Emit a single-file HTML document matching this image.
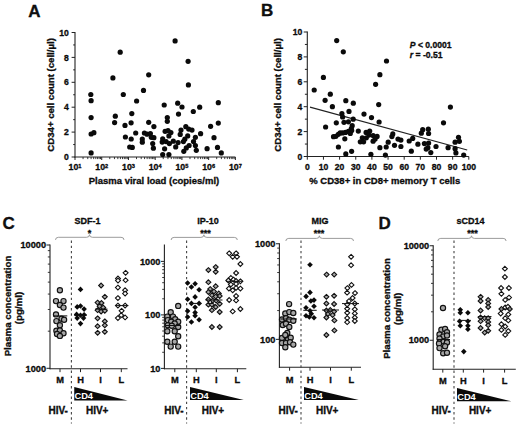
<!DOCTYPE html>
<html><head><meta charset="utf-8"><style>
html,body{margin:0;padding:0;background:#fff;}
body{width:520px;height:427px;overflow:hidden;}
svg{display:block;font-family:"Liberation Sans",sans-serif;font-weight:bold;}
text{stroke:currentColor;stroke-width:0.3px;}
text.w{stroke:none;}
</style></head><body>
<svg width="520" height="427" viewBox="0 0 520 427">
<rect width="520" height="427" fill="#fff"/>
<text x="28.30" y="16.80" font-size="17" text-anchor="start" fill="#111" stroke="#111" >A</text>
<line x1="75.00" y1="32.00" x2="75.00" y2="157.50" stroke="#222" stroke-width="1.1" />
<line x1="74.50" y1="157.00" x2="235.38" y2="157.00" stroke="#222" stroke-width="1.1" />
<line x1="71.60" y1="157.00" x2="75.00" y2="157.00" stroke="#222" stroke-width="1.0" />
<text x="68.90" y="160.10" font-size="8.6" text-anchor="end" fill="#111" stroke="#111" >0</text>
<line x1="73.20" y1="144.55" x2="75.00" y2="144.55" stroke="#222" stroke-width="1.0" />
<line x1="71.60" y1="132.10" x2="75.00" y2="132.10" stroke="#222" stroke-width="1.0" />
<text x="68.90" y="135.20" font-size="8.6" text-anchor="end" fill="#111" stroke="#111" >2</text>
<line x1="73.20" y1="119.65" x2="75.00" y2="119.65" stroke="#222" stroke-width="1.0" />
<line x1="71.60" y1="107.20" x2="75.00" y2="107.20" stroke="#222" stroke-width="1.0" />
<text x="68.90" y="110.30" font-size="8.6" text-anchor="end" fill="#111" stroke="#111" >4</text>
<line x1="73.20" y1="94.75" x2="75.00" y2="94.75" stroke="#222" stroke-width="1.0" />
<line x1="71.60" y1="82.30" x2="75.00" y2="82.30" stroke="#222" stroke-width="1.0" />
<text x="68.90" y="85.40" font-size="8.6" text-anchor="end" fill="#111" stroke="#111" >6</text>
<line x1="73.20" y1="69.85" x2="75.00" y2="69.85" stroke="#222" stroke-width="1.0" />
<line x1="71.60" y1="57.40" x2="75.00" y2="57.40" stroke="#222" stroke-width="1.0" />
<text x="68.90" y="60.50" font-size="8.6" text-anchor="end" fill="#111" stroke="#111" >8</text>
<line x1="73.20" y1="44.95" x2="75.00" y2="44.95" stroke="#222" stroke-width="1.0" />
<line x1="71.60" y1="32.50" x2="75.00" y2="32.50" stroke="#222" stroke-width="1.0" />
<text x="68.90" y="35.60" font-size="8.6" text-anchor="end" fill="#111" stroke="#111" >10</text>
<line x1="75.00" y1="157.00" x2="75.00" y2="160.00" stroke="#222" stroke-width="1.0" />
<line x1="83.05" y1="157.00" x2="83.05" y2="159.10" stroke="#222" stroke-width="0.9" />
<line x1="87.75" y1="157.00" x2="87.75" y2="159.10" stroke="#222" stroke-width="0.9" />
<line x1="91.09" y1="157.00" x2="91.09" y2="159.10" stroke="#222" stroke-width="0.9" />
<line x1="93.68" y1="157.00" x2="93.68" y2="159.10" stroke="#222" stroke-width="0.9" />
<line x1="95.80" y1="157.00" x2="95.80" y2="159.10" stroke="#222" stroke-width="0.9" />
<line x1="97.59" y1="157.00" x2="97.59" y2="159.10" stroke="#222" stroke-width="0.9" />
<line x1="99.14" y1="157.00" x2="99.14" y2="159.10" stroke="#222" stroke-width="0.9" />
<line x1="100.51" y1="157.00" x2="100.51" y2="159.10" stroke="#222" stroke-width="0.9" />
<text x="75.00" y="170.00" font-size="8.8" text-anchor="middle" fill="#111">10<tspan font-size="5.6" dy="-2.3">1</tspan></text>
<line x1="101.73" y1="157.00" x2="101.73" y2="160.00" stroke="#222" stroke-width="1.0" />
<line x1="109.78" y1="157.00" x2="109.78" y2="159.10" stroke="#222" stroke-width="0.9" />
<line x1="114.48" y1="157.00" x2="114.48" y2="159.10" stroke="#222" stroke-width="0.9" />
<line x1="117.82" y1="157.00" x2="117.82" y2="159.10" stroke="#222" stroke-width="0.9" />
<line x1="120.41" y1="157.00" x2="120.41" y2="159.10" stroke="#222" stroke-width="0.9" />
<line x1="122.53" y1="157.00" x2="122.53" y2="159.10" stroke="#222" stroke-width="0.9" />
<line x1="124.32" y1="157.00" x2="124.32" y2="159.10" stroke="#222" stroke-width="0.9" />
<line x1="125.87" y1="157.00" x2="125.87" y2="159.10" stroke="#222" stroke-width="0.9" />
<line x1="127.24" y1="157.00" x2="127.24" y2="159.10" stroke="#222" stroke-width="0.9" />
<text x="101.73" y="170.00" font-size="8.8" text-anchor="middle" fill="#111">10<tspan font-size="5.6" dy="-2.3">2</tspan></text>
<line x1="128.46" y1="157.00" x2="128.46" y2="160.00" stroke="#222" stroke-width="1.0" />
<line x1="136.51" y1="157.00" x2="136.51" y2="159.10" stroke="#222" stroke-width="0.9" />
<line x1="141.21" y1="157.00" x2="141.21" y2="159.10" stroke="#222" stroke-width="0.9" />
<line x1="144.55" y1="157.00" x2="144.55" y2="159.10" stroke="#222" stroke-width="0.9" />
<line x1="147.14" y1="157.00" x2="147.14" y2="159.10" stroke="#222" stroke-width="0.9" />
<line x1="149.26" y1="157.00" x2="149.26" y2="159.10" stroke="#222" stroke-width="0.9" />
<line x1="151.05" y1="157.00" x2="151.05" y2="159.10" stroke="#222" stroke-width="0.9" />
<line x1="152.60" y1="157.00" x2="152.60" y2="159.10" stroke="#222" stroke-width="0.9" />
<line x1="153.97" y1="157.00" x2="153.97" y2="159.10" stroke="#222" stroke-width="0.9" />
<text x="128.46" y="170.00" font-size="8.8" text-anchor="middle" fill="#111">10<tspan font-size="5.6" dy="-2.3">3</tspan></text>
<line x1="155.19" y1="157.00" x2="155.19" y2="160.00" stroke="#222" stroke-width="1.0" />
<line x1="163.24" y1="157.00" x2="163.24" y2="159.10" stroke="#222" stroke-width="0.9" />
<line x1="167.94" y1="157.00" x2="167.94" y2="159.10" stroke="#222" stroke-width="0.9" />
<line x1="171.28" y1="157.00" x2="171.28" y2="159.10" stroke="#222" stroke-width="0.9" />
<line x1="173.87" y1="157.00" x2="173.87" y2="159.10" stroke="#222" stroke-width="0.9" />
<line x1="175.99" y1="157.00" x2="175.99" y2="159.10" stroke="#222" stroke-width="0.9" />
<line x1="177.78" y1="157.00" x2="177.78" y2="159.10" stroke="#222" stroke-width="0.9" />
<line x1="179.33" y1="157.00" x2="179.33" y2="159.10" stroke="#222" stroke-width="0.9" />
<line x1="180.70" y1="157.00" x2="180.70" y2="159.10" stroke="#222" stroke-width="0.9" />
<text x="155.19" y="170.00" font-size="8.8" text-anchor="middle" fill="#111">10<tspan font-size="5.6" dy="-2.3">4</tspan></text>
<line x1="181.92" y1="157.00" x2="181.92" y2="160.00" stroke="#222" stroke-width="1.0" />
<line x1="189.97" y1="157.00" x2="189.97" y2="159.10" stroke="#222" stroke-width="0.9" />
<line x1="194.67" y1="157.00" x2="194.67" y2="159.10" stroke="#222" stroke-width="0.9" />
<line x1="198.01" y1="157.00" x2="198.01" y2="159.10" stroke="#222" stroke-width="0.9" />
<line x1="200.60" y1="157.00" x2="200.60" y2="159.10" stroke="#222" stroke-width="0.9" />
<line x1="202.72" y1="157.00" x2="202.72" y2="159.10" stroke="#222" stroke-width="0.9" />
<line x1="204.51" y1="157.00" x2="204.51" y2="159.10" stroke="#222" stroke-width="0.9" />
<line x1="206.06" y1="157.00" x2="206.06" y2="159.10" stroke="#222" stroke-width="0.9" />
<line x1="207.43" y1="157.00" x2="207.43" y2="159.10" stroke="#222" stroke-width="0.9" />
<text x="181.92" y="170.00" font-size="8.8" text-anchor="middle" fill="#111">10<tspan font-size="5.6" dy="-2.3">5</tspan></text>
<line x1="208.65" y1="157.00" x2="208.65" y2="160.00" stroke="#222" stroke-width="1.0" />
<line x1="216.70" y1="157.00" x2="216.70" y2="159.10" stroke="#222" stroke-width="0.9" />
<line x1="221.40" y1="157.00" x2="221.40" y2="159.10" stroke="#222" stroke-width="0.9" />
<line x1="224.74" y1="157.00" x2="224.74" y2="159.10" stroke="#222" stroke-width="0.9" />
<line x1="227.33" y1="157.00" x2="227.33" y2="159.10" stroke="#222" stroke-width="0.9" />
<line x1="229.45" y1="157.00" x2="229.45" y2="159.10" stroke="#222" stroke-width="0.9" />
<line x1="231.24" y1="157.00" x2="231.24" y2="159.10" stroke="#222" stroke-width="0.9" />
<line x1="232.79" y1="157.00" x2="232.79" y2="159.10" stroke="#222" stroke-width="0.9" />
<line x1="234.16" y1="157.00" x2="234.16" y2="159.10" stroke="#222" stroke-width="0.9" />
<text x="208.65" y="170.00" font-size="8.8" text-anchor="middle" fill="#111">10<tspan font-size="5.6" dy="-2.3">6</tspan></text>
<line x1="235.38" y1="157.00" x2="235.38" y2="160.00" stroke="#222" stroke-width="1.0" />
<text x="235.38" y="170.00" font-size="8.8" text-anchor="middle" fill="#111">10<tspan font-size="5.6" dy="-2.3">7</tspan></text>
<text x="154.00" y="184.20" font-size="9.5" text-anchor="middle" fill="#111" stroke="#111" >Plasma viral load (copies/ml)</text>
<text transform="translate(53.8,94.9) rotate(-90)" x="0" y="0" font-size="9.6" text-anchor="middle" fill="#111">CD34+ cell count (cell/µl)</text>
<circle cx="120.20" cy="52.20" r="2.6" fill="#0a0a0a"/>
<circle cx="112.90" cy="77.90" r="2.6" fill="#0a0a0a"/>
<circle cx="148.70" cy="74.80" r="2.6" fill="#0a0a0a"/>
<circle cx="143.50" cy="90.40" r="2.6" fill="#0a0a0a"/>
<circle cx="90.80" cy="94.50" r="2.6" fill="#0a0a0a"/>
<circle cx="123.30" cy="94.50" r="2.6" fill="#0a0a0a"/>
<circle cx="175.10" cy="40.90" r="2.6" fill="#0a0a0a"/>
<circle cx="188.10" cy="61.30" r="2.6" fill="#0a0a0a"/>
<circle cx="188.40" cy="84.90" r="2.6" fill="#0a0a0a"/>
<circle cx="91.10" cy="100.70" r="2.6" fill="#0a0a0a"/>
<circle cx="91.10" cy="117.60" r="2.6" fill="#0a0a0a"/>
<circle cx="91.10" cy="134.00" r="2.6" fill="#0a0a0a"/>
<circle cx="93.90" cy="132.70" r="2.6" fill="#0a0a0a"/>
<circle cx="91.10" cy="152.90" r="2.6" fill="#0a0a0a"/>
<circle cx="136.60" cy="101.00" r="2.6" fill="#0a0a0a"/>
<circle cx="115.30" cy="116.20" r="2.6" fill="#0a0a0a"/>
<circle cx="114.60" cy="122.60" r="2.6" fill="#0a0a0a"/>
<circle cx="125.00" cy="125.40" r="2.6" fill="#0a0a0a"/>
<circle cx="131.80" cy="113.60" r="2.6" fill="#0a0a0a"/>
<circle cx="131.10" cy="122.80" r="2.6" fill="#0a0a0a"/>
<circle cx="135.70" cy="133.00" r="2.6" fill="#0a0a0a"/>
<circle cx="125.40" cy="137.00" r="2.6" fill="#0a0a0a"/>
<circle cx="131.20" cy="139.00" r="2.6" fill="#0a0a0a"/>
<circle cx="129.70" cy="147.00" r="2.6" fill="#0a0a0a"/>
<circle cx="132.30" cy="147.40" r="2.6" fill="#0a0a0a"/>
<circle cx="148.70" cy="122.30" r="2.6" fill="#0a0a0a"/>
<circle cx="153.90" cy="126.60" r="2.6" fill="#0a0a0a"/>
<circle cx="144.40" cy="133.00" r="2.6" fill="#0a0a0a"/>
<circle cx="147.00" cy="134.20" r="2.6" fill="#0a0a0a"/>
<circle cx="150.40" cy="133.50" r="2.6" fill="#0a0a0a"/>
<circle cx="151.30" cy="137.30" r="2.6" fill="#0a0a0a"/>
<circle cx="153.90" cy="137.70" r="2.6" fill="#0a0a0a"/>
<circle cx="142.30" cy="139.00" r="2.6" fill="#0a0a0a"/>
<circle cx="142.30" cy="142.20" r="2.6" fill="#0a0a0a"/>
<circle cx="152.70" cy="143.60" r="2.6" fill="#0a0a0a"/>
<circle cx="153.40" cy="148.20" r="2.6" fill="#0a0a0a"/>
<circle cx="164.20" cy="105.00" r="2.6" fill="#0a0a0a"/>
<circle cx="177.70" cy="103.20" r="2.6" fill="#0a0a0a"/>
<circle cx="182.00" cy="107.00" r="2.6" fill="#0a0a0a"/>
<circle cx="178.50" cy="114.10" r="2.6" fill="#0a0a0a"/>
<circle cx="193.30" cy="111.50" r="2.6" fill="#0a0a0a"/>
<circle cx="199.70" cy="107.20" r="2.6" fill="#0a0a0a"/>
<circle cx="218.30" cy="102.70" r="2.6" fill="#0a0a0a"/>
<circle cx="218.30" cy="123.10" r="2.6" fill="#0a0a0a"/>
<circle cx="210.60" cy="126.30" r="2.6" fill="#0a0a0a"/>
<circle cx="167.30" cy="117.60" r="2.6" fill="#0a0a0a"/>
<circle cx="167.30" cy="121.30" r="2.6" fill="#0a0a0a"/>
<circle cx="200.60" cy="133.70" r="2.6" fill="#0a0a0a"/>
<circle cx="214.00" cy="137.70" r="2.6" fill="#0a0a0a"/>
<circle cx="207.10" cy="148.70" r="2.6" fill="#0a0a0a"/>
<circle cx="217.50" cy="147.40" r="2.6" fill="#0a0a0a"/>
<circle cx="221.30" cy="152.90" r="2.6" fill="#0a0a0a"/>
<circle cx="165.10" cy="131.30" r="2.6" fill="#0a0a0a"/>
<circle cx="168.00" cy="130.60" r="2.6" fill="#0a0a0a"/>
<circle cx="170.90" cy="132.50" r="2.6" fill="#0a0a0a"/>
<circle cx="168.90" cy="135.90" r="2.6" fill="#0a0a0a"/>
<circle cx="162.70" cy="138.80" r="2.6" fill="#0a0a0a"/>
<circle cx="162.20" cy="142.10" r="2.6" fill="#0a0a0a"/>
<circle cx="166.10" cy="141.60" r="2.6" fill="#0a0a0a"/>
<circle cx="169.40" cy="143.60" r="2.6" fill="#0a0a0a"/>
<circle cx="173.30" cy="141.20" r="2.6" fill="#0a0a0a"/>
<circle cx="178.10" cy="142.60" r="2.6" fill="#0a0a0a"/>
<circle cx="175.70" cy="146.90" r="2.6" fill="#0a0a0a"/>
<circle cx="164.60" cy="148.80" r="2.6" fill="#0a0a0a"/>
<circle cx="162.70" cy="154.60" r="2.6" fill="#0a0a0a"/>
<circle cx="168.90" cy="154.60" r="2.6" fill="#0a0a0a"/>
<circle cx="185.80" cy="126.70" r="2.6" fill="#0a0a0a"/>
<circle cx="188.70" cy="129.10" r="2.6" fill="#0a0a0a"/>
<circle cx="192.00" cy="130.10" r="2.6" fill="#0a0a0a"/>
<circle cx="181.00" cy="130.10" r="2.6" fill="#0a0a0a"/>
<circle cx="180.20" cy="134.40" r="2.6" fill="#0a0a0a"/>
<circle cx="187.70" cy="135.90" r="2.6" fill="#0a0a0a"/>
<circle cx="184.80" cy="139.20" r="2.6" fill="#0a0a0a"/>
<circle cx="183.40" cy="141.60" r="2.6" fill="#0a0a0a"/>
<circle cx="195.40" cy="137.30" r="2.6" fill="#0a0a0a"/>
<circle cx="193.50" cy="141.60" r="2.6" fill="#0a0a0a"/>
<circle cx="195.40" cy="145.50" r="2.6" fill="#0a0a0a"/>
<circle cx="196.30" cy="150.30" r="2.6" fill="#0a0a0a"/>
<circle cx="189.10" cy="145.50" r="2.6" fill="#0a0a0a"/>
<circle cx="186.30" cy="147.90" r="2.6" fill="#0a0a0a"/>
<circle cx="183.80" cy="151.30" r="2.6" fill="#0a0a0a"/>
<text x="261.00" y="16.40" font-size="17" text-anchor="start" fill="#111" stroke="#111" >B</text>
<line x1="307.30" y1="31.50" x2="307.30" y2="157.00" stroke="#222" stroke-width="1.1" />
<line x1="306.80" y1="156.50" x2="468.80" y2="156.50" stroke="#222" stroke-width="1.1" />
<line x1="303.70" y1="156.50" x2="307.30" y2="156.50" stroke="#222" stroke-width="1.0" />
<text x="302.30" y="159.60" font-size="8.6" text-anchor="end" fill="#111" stroke="#111" >0</text>
<line x1="304.90" y1="144.05" x2="307.30" y2="144.05" stroke="#222" stroke-width="1.0" />
<line x1="303.70" y1="131.60" x2="307.30" y2="131.60" stroke="#222" stroke-width="1.0" />
<text x="302.30" y="134.70" font-size="8.6" text-anchor="end" fill="#111" stroke="#111" >2</text>
<line x1="304.90" y1="119.15" x2="307.30" y2="119.15" stroke="#222" stroke-width="1.0" />
<line x1="303.70" y1="106.70" x2="307.30" y2="106.70" stroke="#222" stroke-width="1.0" />
<text x="302.30" y="109.80" font-size="8.6" text-anchor="end" fill="#111" stroke="#111" >4</text>
<line x1="304.90" y1="94.25" x2="307.30" y2="94.25" stroke="#222" stroke-width="1.0" />
<line x1="303.70" y1="81.80" x2="307.30" y2="81.80" stroke="#222" stroke-width="1.0" />
<text x="302.30" y="84.90" font-size="8.6" text-anchor="end" fill="#111" stroke="#111" >6</text>
<line x1="304.90" y1="69.35" x2="307.30" y2="69.35" stroke="#222" stroke-width="1.0" />
<line x1="303.70" y1="56.90" x2="307.30" y2="56.90" stroke="#222" stroke-width="1.0" />
<text x="302.30" y="60.00" font-size="8.6" text-anchor="end" fill="#111" stroke="#111" >8</text>
<line x1="304.90" y1="44.45" x2="307.30" y2="44.45" stroke="#222" stroke-width="1.0" />
<line x1="303.70" y1="32.00" x2="307.30" y2="32.00" stroke="#222" stroke-width="1.0" />
<text x="302.30" y="35.10" font-size="8.6" text-anchor="end" fill="#111" stroke="#111" >10</text>
<line x1="307.30" y1="156.50" x2="307.30" y2="159.70" stroke="#222" stroke-width="1.0" />
<text x="307.30" y="169.70" font-size="8.6" text-anchor="middle" fill="#111" stroke="#111" >0</text>
<line x1="323.45" y1="156.50" x2="323.45" y2="159.70" stroke="#222" stroke-width="1.0" />
<text x="323.45" y="169.70" font-size="8.6" text-anchor="middle" fill="#111" stroke="#111" >10</text>
<line x1="339.60" y1="156.50" x2="339.60" y2="159.70" stroke="#222" stroke-width="1.0" />
<text x="339.60" y="169.70" font-size="8.6" text-anchor="middle" fill="#111" stroke="#111" >20</text>
<line x1="355.75" y1="156.50" x2="355.75" y2="159.70" stroke="#222" stroke-width="1.0" />
<text x="355.75" y="169.70" font-size="8.6" text-anchor="middle" fill="#111" stroke="#111" >30</text>
<line x1="371.90" y1="156.50" x2="371.90" y2="159.70" stroke="#222" stroke-width="1.0" />
<text x="371.90" y="169.70" font-size="8.6" text-anchor="middle" fill="#111" stroke="#111" >40</text>
<line x1="388.05" y1="156.50" x2="388.05" y2="159.70" stroke="#222" stroke-width="1.0" />
<text x="388.05" y="169.70" font-size="8.6" text-anchor="middle" fill="#111" stroke="#111" >50</text>
<line x1="404.20" y1="156.50" x2="404.20" y2="159.70" stroke="#222" stroke-width="1.0" />
<text x="404.20" y="169.70" font-size="8.6" text-anchor="middle" fill="#111" stroke="#111" >60</text>
<line x1="420.35" y1="156.50" x2="420.35" y2="159.70" stroke="#222" stroke-width="1.0" />
<text x="420.35" y="169.70" font-size="8.6" text-anchor="middle" fill="#111" stroke="#111" >70</text>
<line x1="436.50" y1="156.50" x2="436.50" y2="159.70" stroke="#222" stroke-width="1.0" />
<text x="436.50" y="169.70" font-size="8.6" text-anchor="middle" fill="#111" stroke="#111" >80</text>
<line x1="452.65" y1="156.50" x2="452.65" y2="159.70" stroke="#222" stroke-width="1.0" />
<text x="452.65" y="169.70" font-size="8.6" text-anchor="middle" fill="#111" stroke="#111" >90</text>
<line x1="468.80" y1="156.50" x2="468.80" y2="159.70" stroke="#222" stroke-width="1.0" />
<text x="468.80" y="169.70" font-size="8.6" text-anchor="middle" fill="#111" stroke="#111" >100</text>
<text x="384.80" y="184.20" font-size="9.5" text-anchor="middle" fill="#111" stroke="#111" >% CD38+ in CD8+ memory T cells</text>
<text transform="translate(280.5,94.9) rotate(-90)" x="0" y="0" font-size="9.6" text-anchor="middle" fill="#111">CD34+ cell count (cell/µl)</text>
<line x1="310.00" y1="107.10" x2="467.20" y2="150.00" stroke="#222" stroke-width="1.1" />
<text x="409.8" y="48.4" font-size="8.6" fill="#111"><tspan font-style="italic">P</tspan> &lt; 0.0001</text>
<text x="409.8" y="58.2" font-size="8.6" fill="#111"><tspan font-style="italic">r</tspan> = -0.51</text>
<circle cx="336.70" cy="40.60" r="2.6" fill="#0a0a0a"/>
<circle cx="343.30" cy="51.80" r="2.6" fill="#0a0a0a"/>
<circle cx="386.50" cy="61.00" r="2.6" fill="#0a0a0a"/>
<circle cx="379.90" cy="74.70" r="2.6" fill="#0a0a0a"/>
<circle cx="375.60" cy="84.30" r="2.6" fill="#0a0a0a"/>
<circle cx="323.40" cy="77.40" r="2.6" fill="#0a0a0a"/>
<circle cx="314.20" cy="90.00" r="2.6" fill="#0a0a0a"/>
<circle cx="330.30" cy="94.20" r="2.6" fill="#0a0a0a"/>
<circle cx="325.10" cy="100.30" r="2.6" fill="#0a0a0a"/>
<circle cx="332.40" cy="106.70" r="2.6" fill="#0a0a0a"/>
<circle cx="345.80" cy="100.70" r="2.6" fill="#0a0a0a"/>
<circle cx="353.30" cy="103.20" r="2.6" fill="#0a0a0a"/>
<circle cx="349.00" cy="111.40" r="2.6" fill="#0a0a0a"/>
<circle cx="364.00" cy="114.10" r="2.6" fill="#0a0a0a"/>
<circle cx="371.50" cy="117.60" r="2.6" fill="#0a0a0a"/>
<circle cx="378.70" cy="104.60" r="2.6" fill="#0a0a0a"/>
<circle cx="379.10" cy="122.00" r="2.6" fill="#0a0a0a"/>
<circle cx="325.60" cy="127.00" r="2.6" fill="#0a0a0a"/>
<circle cx="336.30" cy="122.80" r="2.6" fill="#0a0a0a"/>
<circle cx="338.40" cy="147.00" r="2.6" fill="#0a0a0a"/>
<circle cx="345.80" cy="153.90" r="2.6" fill="#0a0a0a"/>
<circle cx="351.60" cy="151.30" r="2.6" fill="#0a0a0a"/>
<circle cx="370.90" cy="154.30" r="2.6" fill="#0a0a0a"/>
<circle cx="379.90" cy="147.70" r="2.6" fill="#0a0a0a"/>
<circle cx="386.20" cy="147.00" r="2.6" fill="#0a0a0a"/>
<circle cx="388.20" cy="142.20" r="2.6" fill="#0a0a0a"/>
<circle cx="385.40" cy="155.10" r="2.6" fill="#0a0a0a"/>
<circle cx="341.90" cy="113.50" r="2.6" fill="#0a0a0a"/>
<circle cx="342.60" cy="117.00" r="2.6" fill="#0a0a0a"/>
<circle cx="344.00" cy="122.30" r="2.6" fill="#0a0a0a"/>
<circle cx="348.40" cy="121.80" r="2.6" fill="#0a0a0a"/>
<circle cx="353.20" cy="119.20" r="2.6" fill="#0a0a0a"/>
<circle cx="352.20" cy="125.70" r="2.6" fill="#0a0a0a"/>
<circle cx="351.30" cy="128.60" r="2.6" fill="#0a0a0a"/>
<circle cx="351.70" cy="130.50" r="2.6" fill="#0a0a0a"/>
<circle cx="348.40" cy="131.40" r="2.6" fill="#0a0a0a"/>
<circle cx="345.50" cy="132.40" r="2.6" fill="#0a0a0a"/>
<circle cx="342.60" cy="132.90" r="2.6" fill="#0a0a0a"/>
<circle cx="340.20" cy="132.90" r="2.6" fill="#0a0a0a"/>
<circle cx="338.30" cy="134.30" r="2.6" fill="#0a0a0a"/>
<circle cx="350.30" cy="133.40" r="2.6" fill="#0a0a0a"/>
<circle cx="335.90" cy="136.30" r="2.6" fill="#0a0a0a"/>
<circle cx="333.50" cy="136.70" r="2.6" fill="#0a0a0a"/>
<circle cx="344.80" cy="138.80" r="2.6" fill="#0a0a0a"/>
<circle cx="358.30" cy="131.10" r="2.6" fill="#0a0a0a"/>
<circle cx="366.10" cy="132.40" r="2.6" fill="#0a0a0a"/>
<circle cx="369.70" cy="131.10" r="2.6" fill="#0a0a0a"/>
<circle cx="369.00" cy="135.10" r="2.6" fill="#0a0a0a"/>
<circle cx="373.10" cy="135.50" r="2.6" fill="#0a0a0a"/>
<circle cx="377.10" cy="136.40" r="2.6" fill="#0a0a0a"/>
<circle cx="362.30" cy="137.80" r="2.6" fill="#0a0a0a"/>
<circle cx="366.30" cy="137.80" r="2.6" fill="#0a0a0a"/>
<circle cx="375.10" cy="139.10" r="2.6" fill="#0a0a0a"/>
<circle cx="360.30" cy="141.80" r="2.6" fill="#0a0a0a"/>
<circle cx="363.60" cy="141.80" r="2.6" fill="#0a0a0a"/>
<circle cx="373.10" cy="141.20" r="2.6" fill="#0a0a0a"/>
<circle cx="450.40" cy="107.10" r="2.6" fill="#0a0a0a"/>
<circle cx="443.50" cy="122.80" r="2.6" fill="#0a0a0a"/>
<circle cx="422.70" cy="129.70" r="2.6" fill="#0a0a0a"/>
<circle cx="428.30" cy="129.20" r="2.6" fill="#0a0a0a"/>
<circle cx="421.30" cy="133.20" r="2.6" fill="#0a0a0a"/>
<circle cx="428.60" cy="133.50" r="2.6" fill="#0a0a0a"/>
<circle cx="392.80" cy="133.90" r="2.6" fill="#0a0a0a"/>
<circle cx="391.90" cy="136.60" r="2.6" fill="#0a0a0a"/>
<circle cx="398.00" cy="139.10" r="2.6" fill="#0a0a0a"/>
<circle cx="400.90" cy="140.10" r="2.6" fill="#0a0a0a"/>
<circle cx="394.50" cy="145.30" r="2.6" fill="#0a0a0a"/>
<circle cx="400.90" cy="146.50" r="2.6" fill="#0a0a0a"/>
<circle cx="409.20" cy="141.00" r="2.6" fill="#0a0a0a"/>
<circle cx="412.70" cy="138.40" r="2.6" fill="#0a0a0a"/>
<circle cx="417.90" cy="144.20" r="2.6" fill="#0a0a0a"/>
<circle cx="411.30" cy="151.20" r="2.6" fill="#0a0a0a"/>
<circle cx="424.40" cy="143.60" r="2.6" fill="#0a0a0a"/>
<circle cx="428.60" cy="143.00" r="2.6" fill="#0a0a0a"/>
<circle cx="427.90" cy="147.70" r="2.6" fill="#0a0a0a"/>
<circle cx="426.20" cy="149.10" r="2.6" fill="#0a0a0a"/>
<circle cx="430.80" cy="152.60" r="2.6" fill="#0a0a0a"/>
<circle cx="436.00" cy="146.50" r="2.6" fill="#0a0a0a"/>
<circle cx="448.10" cy="147.70" r="2.6" fill="#0a0a0a"/>
<circle cx="458.50" cy="137.30" r="2.6" fill="#0a0a0a"/>
<circle cx="459.40" cy="141.30" r="2.6" fill="#0a0a0a"/>
<circle cx="455.10" cy="142.20" r="2.6" fill="#0a0a0a"/>
<circle cx="455.10" cy="148.70" r="2.6" fill="#0a0a0a"/>
<circle cx="455.90" cy="152.90" r="2.6" fill="#0a0a0a"/>
<circle cx="463.70" cy="155.10" r="2.6" fill="#0a0a0a"/>
<line x1="50.00" y1="244.50" x2="50.00" y2="369.25" stroke="#222" stroke-width="1.1" />
<line x1="49.50" y1="368.75" x2="127.50" y2="368.75" stroke="#222" stroke-width="1.1" />
<line x1="46.50" y1="245.00" x2="50.00" y2="245.00" stroke="#222" stroke-width="1.0" />
<text x="46.00" y="248.20" font-size="9.2" text-anchor="end" fill="#111" stroke="#111" >10000</text>
<line x1="46.50" y1="368.30" x2="50.00" y2="368.30" stroke="#222" stroke-width="1.0" />
<text x="46.00" y="371.50" font-size="9.2" text-anchor="end" fill="#111" stroke="#111" >1000</text>
<line x1="47.80" y1="331.18" x2="50.00" y2="331.18" stroke="#222" stroke-width="0.9" />
<line x1="47.80" y1="309.47" x2="50.00" y2="309.47" stroke="#222" stroke-width="0.9" />
<line x1="47.80" y1="294.07" x2="50.00" y2="294.07" stroke="#222" stroke-width="0.9" />
<line x1="47.80" y1="282.12" x2="50.00" y2="282.12" stroke="#222" stroke-width="0.9" />
<line x1="47.80" y1="272.35" x2="50.00" y2="272.35" stroke="#222" stroke-width="0.9" />
<line x1="47.80" y1="264.10" x2="50.00" y2="264.10" stroke="#222" stroke-width="0.9" />
<line x1="47.80" y1="256.95" x2="50.00" y2="256.95" stroke="#222" stroke-width="0.9" />
<line x1="47.80" y1="250.64" x2="50.00" y2="250.64" stroke="#222" stroke-width="0.9" />
<line x1="60.00" y1="368.75" x2="60.00" y2="372.15" stroke="#222" stroke-width="1.0" />
<text x="60.00" y="383.40" font-size="9.3" text-anchor="middle" fill="#111" stroke="#111" >M</text>
<line x1="80.50" y1="368.75" x2="80.50" y2="372.15" stroke="#222" stroke-width="1.0" />
<text x="80.50" y="383.40" font-size="9.3" text-anchor="middle" fill="#111" stroke="#111" >H</text>
<line x1="100.50" y1="368.75" x2="100.50" y2="372.15" stroke="#222" stroke-width="1.0" />
<text x="100.50" y="383.40" font-size="9.3" text-anchor="middle" fill="#111" stroke="#111" >I</text>
<line x1="121.30" y1="368.75" x2="121.30" y2="372.15" stroke="#222" stroke-width="1.0" />
<text x="121.30" y="383.40" font-size="9.3" text-anchor="middle" fill="#111" stroke="#111" >L</text>
<line x1="71.40" y1="240.50" x2="71.40" y2="423.50" stroke="#444" stroke-width="1.1" stroke-dasharray="2.4,2.8"/>
<text x="87.50" y="224.20" font-size="9.0" text-anchor="middle" fill="#111" stroke="#111" >SDF-1</text>
<text x="89.50" y="236.30" font-size="9.0" text-anchor="middle" fill="#111" stroke="#111" >*</text>
<path d="M55.50 239.90 Q55.50 237.30 58.50 237.30 L86.50 237.30 Q89.50 237.30 89.50 234.70 Q89.50 237.30 92.50 237.30 L121.00 237.30 Q124.00 237.30 124.00 239.90" fill="none" stroke="#8a8a8a" stroke-width="0.85"/>
<circle cx="59.90" cy="290.20" r="2.6" fill="#a6a6a6" stroke="#111" stroke-width="1.15"/>
<circle cx="56.00" cy="301.10" r="2.6" fill="#a6a6a6" stroke="#111" stroke-width="1.15"/>
<circle cx="63.50" cy="301.10" r="2.6" fill="#a6a6a6" stroke="#111" stroke-width="1.15"/>
<circle cx="59.90" cy="305.00" r="2.6" fill="#a6a6a6" stroke="#111" stroke-width="1.15"/>
<circle cx="63.50" cy="307.60" r="2.6" fill="#a6a6a6" stroke="#111" stroke-width="1.15"/>
<circle cx="56.00" cy="314.40" r="2.6" fill="#a6a6a6" stroke="#111" stroke-width="1.15"/>
<circle cx="61.50" cy="318.80" r="2.6" fill="#a6a6a6" stroke="#111" stroke-width="1.15"/>
<circle cx="56.40" cy="321.10" r="2.6" fill="#a6a6a6" stroke="#111" stroke-width="1.15"/>
<circle cx="64.10" cy="319.80" r="2.6" fill="#a6a6a6" stroke="#111" stroke-width="1.15"/>
<circle cx="59.90" cy="325.20" r="2.6" fill="#a6a6a6" stroke="#111" stroke-width="1.15"/>
<circle cx="56.40" cy="330.70" r="2.6" fill="#a6a6a6" stroke="#111" stroke-width="1.15"/>
<circle cx="59.90" cy="330.40" r="2.6" fill="#a6a6a6" stroke="#111" stroke-width="1.15"/>
<circle cx="63.50" cy="333.30" r="2.6" fill="#a6a6a6" stroke="#111" stroke-width="1.15"/>
<circle cx="57.00" cy="334.00" r="2.6" fill="#a6a6a6" stroke="#111" stroke-width="1.15"/>
<circle cx="59.90" cy="335.90" r="2.6" fill="#a6a6a6" stroke="#111" stroke-width="1.15"/>
<path d="M80.50 286.60L83.30 289.40L80.50 292.20L77.70 289.40Z" fill="#0a0a0a"/>
<path d="M77.20 304.10L80.00 306.90L77.20 309.70L74.40 306.90Z" fill="#0a0a0a"/>
<path d="M80.50 303.20L83.30 306.00L80.50 308.80L77.70 306.00Z" fill="#0a0a0a"/>
<path d="M84.10 306.30L86.90 309.10L84.10 311.90L81.30 309.10Z" fill="#0a0a0a"/>
<path d="M76.60 311.60L79.40 314.40L76.60 317.20L73.80 314.40Z" fill="#0a0a0a"/>
<path d="M80.50 312.40L83.30 315.20L80.50 318.00L77.70 315.20Z" fill="#0a0a0a"/>
<path d="M84.10 312.00L86.90 314.80L84.10 317.60L81.30 314.80Z" fill="#0a0a0a"/>
<path d="M77.20 315.30L80.00 318.10L77.20 320.90L74.40 318.10Z" fill="#0a0a0a"/>
<path d="M83.50 315.30L86.30 318.10L83.50 320.90L80.70 318.10Z" fill="#0a0a0a"/>
<path d="M80.50 320.80L83.30 323.60L80.50 326.40L77.70 323.60Z" fill="#0a0a0a"/>
<path d="M101.10 283.12L103.55 285.50L101.10 287.88L98.65 285.50Z" fill="#a6a6a6" stroke="#111" stroke-width="1.1"/>
<path d="M104.80 294.42L107.25 296.80L104.80 299.18L102.35 296.80Z" fill="#a6a6a6" stroke="#111" stroke-width="1.1"/>
<path d="M97.60 300.22L100.05 302.60L97.60 304.98L95.15 302.60Z" fill="#a6a6a6" stroke="#111" stroke-width="1.1"/>
<path d="M101.50 300.62L103.95 303.00L101.50 305.38L99.05 303.00Z" fill="#a6a6a6" stroke="#111" stroke-width="1.1"/>
<path d="M99.60 303.82L102.05 306.20L99.60 308.58L97.15 306.20Z" fill="#a6a6a6" stroke="#111" stroke-width="1.1"/>
<path d="M103.20 305.22L105.65 307.60L103.20 309.98L100.75 307.60Z" fill="#a6a6a6" stroke="#111" stroke-width="1.1"/>
<path d="M97.60 307.82L100.05 310.20L97.60 312.58L95.15 310.20Z" fill="#a6a6a6" stroke="#111" stroke-width="1.1"/>
<path d="M101.10 309.12L103.55 311.50L101.10 313.88L98.65 311.50Z" fill="#a6a6a6" stroke="#111" stroke-width="1.1"/>
<path d="M104.80 308.42L107.25 310.80L104.80 313.18L102.35 310.80Z" fill="#a6a6a6" stroke="#111" stroke-width="1.1"/>
<path d="M97.60 315.92L100.05 318.30L97.60 320.68L95.15 318.30Z" fill="#a6a6a6" stroke="#111" stroke-width="1.1"/>
<path d="M104.80 318.92L107.25 321.30L104.80 323.68L102.35 321.30Z" fill="#a6a6a6" stroke="#111" stroke-width="1.1"/>
<path d="M104.80 322.92L107.25 325.30L104.80 327.68L102.35 325.30Z" fill="#a6a6a6" stroke="#111" stroke-width="1.1"/>
<path d="M97.60 323.82L100.05 326.20L97.60 328.58L95.15 326.20Z" fill="#a6a6a6" stroke="#111" stroke-width="1.1"/>
<path d="M104.80 329.42L107.25 331.80L104.80 334.18L102.35 331.80Z" fill="#a6a6a6" stroke="#111" stroke-width="1.1"/>
<path d="M97.60 330.42L100.05 332.80L97.60 335.18L95.15 332.80Z" fill="#a6a6a6" stroke="#111" stroke-width="1.1"/>
<path d="M125.60 270.42L128.05 272.80L125.60 275.18L123.15 272.80Z" fill="#ffffff" stroke="#111" stroke-width="1.1"/>
<path d="M118.00 276.12L120.45 278.50L118.00 280.88L115.55 278.50Z" fill="#ffffff" stroke="#111" stroke-width="1.1"/>
<path d="M118.00 278.22L120.45 280.60L118.00 282.98L115.55 280.60Z" fill="#ffffff" stroke="#111" stroke-width="1.1"/>
<path d="M125.60 277.82L128.05 280.20L125.60 282.58L123.15 280.20Z" fill="#ffffff" stroke="#111" stroke-width="1.1"/>
<path d="M117.90 285.22L120.35 287.60L117.90 289.98L115.45 287.60Z" fill="#ffffff" stroke="#111" stroke-width="1.1"/>
<path d="M125.10 287.82L127.55 290.20L125.10 292.58L122.65 290.20Z" fill="#ffffff" stroke="#111" stroke-width="1.1"/>
<path d="M125.10 291.22L127.55 293.60L125.10 295.98L122.65 293.60Z" fill="#ffffff" stroke="#111" stroke-width="1.1"/>
<path d="M117.90 295.72L120.35 298.10L117.90 300.48L115.45 298.10Z" fill="#ffffff" stroke="#111" stroke-width="1.1"/>
<path d="M117.90 303.22L120.35 305.60L117.90 307.98L115.45 305.60Z" fill="#ffffff" stroke="#111" stroke-width="1.1"/>
<path d="M125.10 303.22L127.55 305.60L125.10 307.98L122.65 305.60Z" fill="#ffffff" stroke="#111" stroke-width="1.1"/>
<path d="M121.60 308.42L124.05 310.80L121.60 313.18L119.15 310.80Z" fill="#ffffff" stroke="#111" stroke-width="1.1"/>
<path d="M121.20 312.82L123.65 315.20L121.20 317.58L118.75 315.20Z" fill="#ffffff" stroke="#111" stroke-width="1.1"/>
<path d="M117.90 315.72L120.35 318.10L117.90 320.48L115.45 318.10Z" fill="#ffffff" stroke="#111" stroke-width="1.1"/>
<path d="M125.10 315.02L127.55 317.40L125.10 319.78L122.65 317.40Z" fill="#ffffff" stroke="#111" stroke-width="1.1"/>
<line x1="53.20" y1="315.90" x2="67.30" y2="315.90" stroke="#111" stroke-width="1.0" />
<line x1="74.00" y1="315.20" x2="87.00" y2="315.20" stroke="#111" stroke-width="1.0" />
<line x1="95.00" y1="309.10" x2="107.50" y2="309.10" stroke="#111" stroke-width="1.0" />
<line x1="115.30" y1="305.60" x2="128.40" y2="305.60" stroke="#111" stroke-width="1.0" />
<path d="M74.25 387.00L127.50 400.50L74.25 400.50Z" fill="#0a0a0a"/>
<text x="74.45" y="399.00" font-size="9.3" text-anchor="start" fill="#fff" stroke="#fff" class="w" >CD4</text>
<text x="48.45" y="413.80" font-size="10.0" text-anchor="start" fill="#111" stroke="#111" >HIV-</text>
<text x="85.95" y="413.80" font-size="10.0" text-anchor="start" fill="#111" stroke="#111" >HIV+</text>
<text transform="translate(10.5,306.0) rotate(-90)" x="0" y="0" font-size="9.7" text-anchor="middle" fill="#111">Plasma concentration</text>
<text transform="translate(21.6,308.0) rotate(-90)" x="0" y="0" font-size="9.7" text-anchor="middle" fill="#111">(pg/ml)</text>
<text x="2.40" y="228.80" font-size="17" text-anchor="start" fill="#111" stroke="#111" >C</text>
<line x1="164.40" y1="244.50" x2="164.40" y2="369.30" stroke="#222" stroke-width="1.1" />
<line x1="163.90" y1="368.80" x2="246.30" y2="368.80" stroke="#222" stroke-width="1.1" />
<line x1="160.90" y1="261.40" x2="164.40" y2="261.40" stroke="#222" stroke-width="1.0" />
<text x="160.40" y="264.60" font-size="9.2" text-anchor="end" fill="#111" stroke="#111" >1000</text>
<line x1="160.90" y1="314.90" x2="164.40" y2="314.90" stroke="#222" stroke-width="1.0" />
<text x="160.40" y="318.10" font-size="9.2" text-anchor="end" fill="#111" stroke="#111" >100</text>
<line x1="160.90" y1="368.40" x2="164.40" y2="368.40" stroke="#222" stroke-width="1.0" />
<text x="160.40" y="371.60" font-size="9.2" text-anchor="end" fill="#111" stroke="#111" >10</text>
<line x1="162.20" y1="298.79" x2="164.40" y2="298.79" stroke="#222" stroke-width="0.9" />
<line x1="162.20" y1="289.37" x2="164.40" y2="289.37" stroke="#222" stroke-width="0.9" />
<line x1="162.20" y1="282.69" x2="164.40" y2="282.69" stroke="#222" stroke-width="0.9" />
<line x1="162.20" y1="277.51" x2="164.40" y2="277.51" stroke="#222" stroke-width="0.9" />
<line x1="162.20" y1="273.27" x2="164.40" y2="273.27" stroke="#222" stroke-width="0.9" />
<line x1="162.20" y1="269.69" x2="164.40" y2="269.69" stroke="#222" stroke-width="0.9" />
<line x1="162.20" y1="266.58" x2="164.40" y2="266.58" stroke="#222" stroke-width="0.9" />
<line x1="162.20" y1="263.85" x2="164.40" y2="263.85" stroke="#222" stroke-width="0.9" />
<line x1="162.20" y1="352.29" x2="164.40" y2="352.29" stroke="#222" stroke-width="0.9" />
<line x1="162.20" y1="342.87" x2="164.40" y2="342.87" stroke="#222" stroke-width="0.9" />
<line x1="162.20" y1="336.19" x2="164.40" y2="336.19" stroke="#222" stroke-width="0.9" />
<line x1="162.20" y1="331.01" x2="164.40" y2="331.01" stroke="#222" stroke-width="0.9" />
<line x1="162.20" y1="326.77" x2="164.40" y2="326.77" stroke="#222" stroke-width="0.9" />
<line x1="162.20" y1="323.19" x2="164.40" y2="323.19" stroke="#222" stroke-width="0.9" />
<line x1="162.20" y1="320.08" x2="164.40" y2="320.08" stroke="#222" stroke-width="0.9" />
<line x1="162.20" y1="317.35" x2="164.40" y2="317.35" stroke="#222" stroke-width="0.9" />
<line x1="174.80" y1="368.80" x2="174.80" y2="372.20" stroke="#222" stroke-width="1.0" />
<text x="174.80" y="383.40" font-size="9.3" text-anchor="middle" fill="#111" stroke="#111" >M</text>
<line x1="196.30" y1="368.80" x2="196.30" y2="372.20" stroke="#222" stroke-width="1.0" />
<text x="196.30" y="383.40" font-size="9.3" text-anchor="middle" fill="#111" stroke="#111" >H</text>
<line x1="216.30" y1="368.80" x2="216.30" y2="372.20" stroke="#222" stroke-width="1.0" />
<text x="216.30" y="383.40" font-size="9.3" text-anchor="middle" fill="#111" stroke="#111" >I</text>
<line x1="237.40" y1="368.80" x2="237.40" y2="372.20" stroke="#222" stroke-width="1.0" />
<text x="237.40" y="383.40" font-size="9.3" text-anchor="middle" fill="#111" stroke="#111" >L</text>
<line x1="186.60" y1="240.50" x2="186.60" y2="423.50" stroke="#444" stroke-width="1.1" stroke-dasharray="2.4,2.8"/>
<text x="208.00" y="224.20" font-size="9.0" text-anchor="middle" fill="#111" stroke="#111" >IP-10</text>
<text x="205.50" y="236.30" font-size="9.0" text-anchor="middle" fill="#111" stroke="#111" >***</text>
<path d="M171.10 240.00 Q171.10 237.40 174.10 237.40 L200.90 237.40 Q203.90 237.40 203.90 234.80 Q203.90 237.40 206.90 237.40 L234.30 237.40 Q237.30 237.40 237.30 240.00" fill="none" stroke="#8a8a8a" stroke-width="0.85"/>
<circle cx="178.20" cy="305.90" r="2.6" fill="#a6a6a6" stroke="#111" stroke-width="1.15"/>
<circle cx="170.70" cy="312.30" r="2.6" fill="#a6a6a6" stroke="#111" stroke-width="1.15"/>
<circle cx="167.30" cy="316.60" r="2.6" fill="#a6a6a6" stroke="#111" stroke-width="1.15"/>
<circle cx="173.00" cy="316.60" r="2.6" fill="#a6a6a6" stroke="#111" stroke-width="1.15"/>
<circle cx="175.20" cy="319.20" r="2.6" fill="#a6a6a6" stroke="#111" stroke-width="1.15"/>
<circle cx="167.80" cy="320.10" r="2.6" fill="#a6a6a6" stroke="#111" stroke-width="1.15"/>
<circle cx="171.20" cy="321.80" r="2.6" fill="#a6a6a6" stroke="#111" stroke-width="1.15"/>
<circle cx="178.20" cy="321.80" r="2.6" fill="#a6a6a6" stroke="#111" stroke-width="1.15"/>
<circle cx="174.70" cy="323.50" r="2.6" fill="#a6a6a6" stroke="#111" stroke-width="1.15"/>
<circle cx="167.80" cy="325.30" r="2.6" fill="#a6a6a6" stroke="#111" stroke-width="1.15"/>
<circle cx="171.80" cy="325.80" r="2.6" fill="#a6a6a6" stroke="#111" stroke-width="1.15"/>
<circle cx="178.20" cy="327.00" r="2.6" fill="#a6a6a6" stroke="#111" stroke-width="1.15"/>
<circle cx="167.30" cy="331.30" r="2.6" fill="#a6a6a6" stroke="#111" stroke-width="1.15"/>
<circle cx="174.70" cy="331.30" r="2.6" fill="#a6a6a6" stroke="#111" stroke-width="1.15"/>
<circle cx="178.20" cy="336.20" r="2.6" fill="#a6a6a6" stroke="#111" stroke-width="1.15"/>
<circle cx="167.30" cy="341.70" r="2.6" fill="#a6a6a6" stroke="#111" stroke-width="1.15"/>
<circle cx="174.70" cy="341.70" r="2.6" fill="#a6a6a6" stroke="#111" stroke-width="1.15"/>
<circle cx="170.70" cy="346.60" r="2.6" fill="#a6a6a6" stroke="#111" stroke-width="1.15"/>
<circle cx="178.20" cy="346.60" r="2.6" fill="#a6a6a6" stroke="#111" stroke-width="1.15"/>
<path d="M187.60 280.20L190.40 283.00L187.60 285.80L184.80 283.00Z" fill="#0a0a0a"/>
<path d="M195.10 281.00L197.90 283.80L195.10 286.60L192.30 283.80Z" fill="#0a0a0a"/>
<path d="M191.40 284.20L194.20 287.00L191.40 289.80L188.60 287.00Z" fill="#0a0a0a"/>
<path d="M199.10 287.00L201.90 289.80L199.10 292.60L196.30 289.80Z" fill="#0a0a0a"/>
<path d="M195.10 294.10L197.90 296.90L195.10 299.70L192.30 296.90Z" fill="#0a0a0a"/>
<path d="M187.60 296.50L190.40 299.30L187.60 302.10L184.80 299.30Z" fill="#0a0a0a"/>
<path d="M191.40 300.60L194.20 303.40L191.40 306.20L188.60 303.40Z" fill="#0a0a0a"/>
<path d="M199.10 300.60L201.90 303.40L199.10 306.20L196.30 303.40Z" fill="#0a0a0a"/>
<path d="M195.10 304.40L197.90 307.20L195.10 310.00L192.30 307.20Z" fill="#0a0a0a"/>
<path d="M187.60 308.30L190.40 311.10L187.60 313.90L184.80 311.10Z" fill="#0a0a0a"/>
<path d="M195.10 309.80L197.90 312.60L195.10 315.40L192.30 312.60Z" fill="#0a0a0a"/>
<path d="M195.10 313.00L197.90 315.80L195.10 318.60L192.30 315.80Z" fill="#0a0a0a"/>
<path d="M187.60 314.20L190.40 317.00L187.60 319.80L184.80 317.00Z" fill="#0a0a0a"/>
<path d="M191.40 319.20L194.20 322.00L191.40 324.80L188.60 322.00Z" fill="#0a0a0a"/>
<path d="M199.10 317.00L201.90 319.80L199.10 322.60L196.30 319.80Z" fill="#0a0a0a"/>
<path d="M208.40 267.72L210.85 270.10L208.40 272.48L205.95 270.10Z" fill="#a6a6a6" stroke="#111" stroke-width="1.1"/>
<path d="M215.70 264.72L218.15 267.10L215.70 269.48L213.25 267.10Z" fill="#a6a6a6" stroke="#111" stroke-width="1.1"/>
<path d="M215.70 269.42L218.15 271.80L215.70 274.18L213.25 271.80Z" fill="#a6a6a6" stroke="#111" stroke-width="1.1"/>
<path d="M208.40 279.82L210.85 282.20L208.40 284.58L205.95 282.20Z" fill="#a6a6a6" stroke="#111" stroke-width="1.1"/>
<path d="M215.70 283.82L218.15 286.20L215.70 288.58L213.25 286.20Z" fill="#a6a6a6" stroke="#111" stroke-width="1.1"/>
<path d="M210.20 286.72L212.65 289.10L210.20 291.48L207.75 289.10Z" fill="#a6a6a6" stroke="#111" stroke-width="1.1"/>
<path d="M208.40 289.72L210.85 292.10L208.40 294.48L205.95 292.10Z" fill="#a6a6a6" stroke="#111" stroke-width="1.1"/>
<path d="M214.00 289.02L216.45 291.40L214.00 293.78L211.55 291.40Z" fill="#a6a6a6" stroke="#111" stroke-width="1.1"/>
<path d="M218.80 291.02L221.25 293.40L218.80 295.78L216.35 293.40Z" fill="#a6a6a6" stroke="#111" stroke-width="1.1"/>
<path d="M211.90 292.82L214.35 295.20L211.90 297.58L209.45 295.20Z" fill="#a6a6a6" stroke="#111" stroke-width="1.1"/>
<path d="M215.70 294.22L218.15 296.60L215.70 298.98L213.25 296.60Z" fill="#a6a6a6" stroke="#111" stroke-width="1.1"/>
<path d="M219.70 293.62L222.15 296.00L219.70 298.38L217.25 296.00Z" fill="#a6a6a6" stroke="#111" stroke-width="1.1"/>
<path d="M208.40 297.12L210.85 299.50L208.40 301.88L205.95 299.50Z" fill="#a6a6a6" stroke="#111" stroke-width="1.1"/>
<path d="M212.80 298.02L215.25 300.40L212.80 302.78L210.35 300.40Z" fill="#a6a6a6" stroke="#111" stroke-width="1.1"/>
<path d="M216.20 298.32L218.65 300.70L216.20 303.08L213.75 300.70Z" fill="#a6a6a6" stroke="#111" stroke-width="1.1"/>
<path d="M208.40 302.32L210.85 304.70L208.40 307.08L205.95 304.70Z" fill="#a6a6a6" stroke="#111" stroke-width="1.1"/>
<path d="M211.90 302.32L214.35 304.70L211.90 307.08L209.45 304.70Z" fill="#a6a6a6" stroke="#111" stroke-width="1.1"/>
<path d="M219.70 301.42L222.15 303.80L219.70 306.18L217.25 303.80Z" fill="#a6a6a6" stroke="#111" stroke-width="1.1"/>
<path d="M215.70 304.62L218.15 307.00L215.70 309.38L213.25 307.00Z" fill="#a6a6a6" stroke="#111" stroke-width="1.1"/>
<path d="M211.90 307.82L214.35 310.20L211.90 312.58L209.45 310.20Z" fill="#a6a6a6" stroke="#111" stroke-width="1.1"/>
<path d="M219.70 309.62L222.15 312.00L219.70 314.38L217.25 312.00Z" fill="#a6a6a6" stroke="#111" stroke-width="1.1"/>
<path d="M211.90 324.62L214.35 327.00L211.90 329.38L209.45 327.00Z" fill="#a6a6a6" stroke="#111" stroke-width="1.1"/>
<path d="M219.70 324.62L222.15 327.00L219.70 329.38L217.25 327.00Z" fill="#a6a6a6" stroke="#111" stroke-width="1.1"/>
<path d="M229.20 250.92L231.65 253.30L229.20 255.68L226.75 253.30Z" fill="#ffffff" stroke="#111" stroke-width="1.1"/>
<path d="M236.10 250.92L238.55 253.30L236.10 255.68L233.65 253.30Z" fill="#ffffff" stroke="#111" stroke-width="1.1"/>
<path d="M232.70 254.42L235.15 256.80L232.70 259.18L230.25 256.80Z" fill="#ffffff" stroke="#111" stroke-width="1.1"/>
<path d="M237.00 254.42L239.45 256.80L237.00 259.18L234.55 256.80Z" fill="#ffffff" stroke="#111" stroke-width="1.1"/>
<path d="M240.40 261.62L242.85 264.00L240.40 266.38L237.95 264.00Z" fill="#ffffff" stroke="#111" stroke-width="1.1"/>
<path d="M236.10 270.62L238.55 273.00L236.10 275.38L233.65 273.00Z" fill="#ffffff" stroke="#111" stroke-width="1.1"/>
<path d="M230.90 275.52L233.35 277.90L230.90 280.28L228.45 277.90Z" fill="#ffffff" stroke="#111" stroke-width="1.1"/>
<path d="M228.30 278.12L230.75 280.50L228.30 282.88L225.85 280.50Z" fill="#ffffff" stroke="#111" stroke-width="1.1"/>
<path d="M233.50 277.22L235.95 279.60L233.50 281.98L231.05 279.60Z" fill="#ffffff" stroke="#111" stroke-width="1.1"/>
<path d="M236.10 278.62L238.55 281.00L236.10 283.38L233.65 281.00Z" fill="#ffffff" stroke="#111" stroke-width="1.1"/>
<path d="M240.40 278.92L242.85 281.30L240.40 283.68L237.95 281.30Z" fill="#ffffff" stroke="#111" stroke-width="1.1"/>
<path d="M230.90 282.02L233.35 284.40L230.90 286.78L228.45 284.40Z" fill="#ffffff" stroke="#111" stroke-width="1.1"/>
<path d="M236.10 281.52L238.55 283.90L236.10 286.28L233.65 283.90Z" fill="#ffffff" stroke="#111" stroke-width="1.1"/>
<path d="M228.90 286.22L231.35 288.60L228.90 290.98L226.45 288.60Z" fill="#ffffff" stroke="#111" stroke-width="1.1"/>
<path d="M232.70 287.92L235.15 290.30L232.70 292.68L230.25 290.30Z" fill="#ffffff" stroke="#111" stroke-width="1.1"/>
<path d="M236.10 285.52L238.55 287.90L236.10 290.28L233.65 287.90Z" fill="#ffffff" stroke="#111" stroke-width="1.1"/>
<path d="M240.40 286.22L242.85 288.60L240.40 290.98L237.95 288.60Z" fill="#ffffff" stroke="#111" stroke-width="1.1"/>
<path d="M236.10 293.62L238.55 296.00L236.10 298.38L233.65 296.00Z" fill="#ffffff" stroke="#111" stroke-width="1.1"/>
<path d="M229.20 297.62L231.65 300.00L229.20 302.38L226.75 300.00Z" fill="#ffffff" stroke="#111" stroke-width="1.1"/>
<path d="M236.10 298.02L238.55 300.40L236.10 302.78L233.65 300.40Z" fill="#ffffff" stroke="#111" stroke-width="1.1"/>
<path d="M240.40 306.62L242.85 309.00L240.40 311.38L237.95 309.00Z" fill="#ffffff" stroke="#111" stroke-width="1.1"/>
<path d="M232.70 309.02L235.15 311.40L232.70 313.78L230.25 311.40Z" fill="#ffffff" stroke="#111" stroke-width="1.1"/>
<line x1="165.50" y1="325.50" x2="181.00" y2="325.50" stroke="#111" stroke-width="1.0" />
<line x1="189.00" y1="303.40" x2="201.50" y2="303.40" stroke="#111" stroke-width="1.0" />
<line x1="205.50" y1="300.00" x2="222.50" y2="300.00" stroke="#111" stroke-width="1.0" />
<line x1="226.00" y1="281.30" x2="243.00" y2="281.30" stroke="#111" stroke-width="1.0" />
<path d="M190.00 387.00L243.75 400.00L190.00 400.00Z" fill="#0a0a0a"/>
<text x="190.20" y="398.50" font-size="9.3" text-anchor="start" fill="#fff" stroke="#fff" class="w" >CD4</text>
<text x="164.20" y="413.80" font-size="10.0" text-anchor="start" fill="#111" stroke="#111" >HIV-</text>
<text x="201.70" y="413.80" font-size="10.0" text-anchor="start" fill="#111" stroke="#111" >HIV+</text>
<line x1="279.40" y1="243.25" x2="279.40" y2="367.80" stroke="#222" stroke-width="1.1" />
<line x1="278.90" y1="367.30" x2="361.00" y2="367.30" stroke="#222" stroke-width="1.1" />
<line x1="275.90" y1="243.75" x2="279.40" y2="243.75" stroke="#222" stroke-width="1.0" />
<text x="275.40" y="246.95" font-size="9.2" text-anchor="end" fill="#111" stroke="#111" >1000</text>
<line x1="275.90" y1="339.35" x2="279.40" y2="339.35" stroke="#222" stroke-width="1.0" />
<text x="275.40" y="342.55" font-size="9.2" text-anchor="end" fill="#111" stroke="#111" >100</text>
<line x1="277.20" y1="310.57" x2="279.40" y2="310.57" stroke="#222" stroke-width="0.9" />
<line x1="277.20" y1="293.74" x2="279.40" y2="293.74" stroke="#222" stroke-width="0.9" />
<line x1="277.20" y1="281.79" x2="279.40" y2="281.79" stroke="#222" stroke-width="0.9" />
<line x1="277.20" y1="272.53" x2="279.40" y2="272.53" stroke="#222" stroke-width="0.9" />
<line x1="277.20" y1="264.96" x2="279.40" y2="264.96" stroke="#222" stroke-width="0.9" />
<line x1="277.20" y1="258.56" x2="279.40" y2="258.56" stroke="#222" stroke-width="0.9" />
<line x1="277.20" y1="253.01" x2="279.40" y2="253.01" stroke="#222" stroke-width="0.9" />
<line x1="277.20" y1="248.12" x2="279.40" y2="248.12" stroke="#222" stroke-width="0.9" />
<line x1="289.60" y1="367.30" x2="289.60" y2="370.70" stroke="#222" stroke-width="1.0" />
<text x="289.60" y="383.40" font-size="9.3" text-anchor="middle" fill="#111" stroke="#111" >M</text>
<line x1="310.00" y1="367.30" x2="310.00" y2="370.70" stroke="#222" stroke-width="1.0" />
<text x="310.00" y="383.40" font-size="9.3" text-anchor="middle" fill="#111" stroke="#111" >H</text>
<line x1="330.50" y1="367.30" x2="330.50" y2="370.70" stroke="#222" stroke-width="1.0" />
<text x="330.50" y="383.40" font-size="9.3" text-anchor="middle" fill="#111" stroke="#111" >I</text>
<line x1="351.30" y1="367.30" x2="351.30" y2="370.70" stroke="#222" stroke-width="1.0" />
<text x="351.30" y="383.40" font-size="9.3" text-anchor="middle" fill="#111" stroke="#111" >L</text>
<line x1="301.00" y1="240.50" x2="301.00" y2="423.50" stroke="#444" stroke-width="1.1" stroke-dasharray="2.4,2.8"/>
<text x="320.00" y="224.20" font-size="9.0" text-anchor="middle" fill="#111" stroke="#111" >MIG</text>
<text x="319.00" y="236.30" font-size="9.0" text-anchor="middle" fill="#111" stroke="#111" >***</text>
<path d="M285.80 241.00 Q285.80 238.40 288.80 238.40 L316.40 238.40 Q319.40 238.40 319.40 235.80 Q319.40 238.40 322.40 238.40 L350.50 238.40 Q353.50 238.40 353.50 241.00" fill="none" stroke="#8a8a8a" stroke-width="0.85"/>
<circle cx="289.10" cy="304.10" r="2.6" fill="#a6a6a6" stroke="#111" stroke-width="1.15"/>
<circle cx="285.30" cy="313.40" r="2.6" fill="#a6a6a6" stroke="#111" stroke-width="1.15"/>
<circle cx="289.30" cy="312.10" r="2.6" fill="#a6a6a6" stroke="#111" stroke-width="1.15"/>
<circle cx="293.30" cy="313.00" r="2.6" fill="#a6a6a6" stroke="#111" stroke-width="1.15"/>
<circle cx="282.00" cy="319.40" r="2.6" fill="#a6a6a6" stroke="#111" stroke-width="1.15"/>
<circle cx="286.00" cy="318.30" r="2.6" fill="#a6a6a6" stroke="#111" stroke-width="1.15"/>
<circle cx="289.30" cy="319.70" r="2.6" fill="#a6a6a6" stroke="#111" stroke-width="1.15"/>
<circle cx="293.30" cy="320.70" r="2.6" fill="#a6a6a6" stroke="#111" stroke-width="1.15"/>
<circle cx="282.70" cy="325.00" r="2.6" fill="#a6a6a6" stroke="#111" stroke-width="1.15"/>
<circle cx="286.00" cy="323.70" r="2.6" fill="#a6a6a6" stroke="#111" stroke-width="1.15"/>
<circle cx="289.30" cy="327.00" r="2.6" fill="#a6a6a6" stroke="#111" stroke-width="1.15"/>
<circle cx="287.30" cy="333.00" r="2.6" fill="#a6a6a6" stroke="#111" stroke-width="1.15"/>
<circle cx="282.00" cy="337.90" r="2.6" fill="#a6a6a6" stroke="#111" stroke-width="1.15"/>
<circle cx="285.30" cy="335.00" r="2.6" fill="#a6a6a6" stroke="#111" stroke-width="1.15"/>
<circle cx="288.00" cy="339.70" r="2.6" fill="#a6a6a6" stroke="#111" stroke-width="1.15"/>
<circle cx="290.70" cy="337.70" r="2.6" fill="#a6a6a6" stroke="#111" stroke-width="1.15"/>
<circle cx="282.00" cy="343.00" r="2.6" fill="#a6a6a6" stroke="#111" stroke-width="1.15"/>
<circle cx="286.00" cy="343.00" r="2.6" fill="#a6a6a6" stroke="#111" stroke-width="1.15"/>
<circle cx="290.00" cy="342.30" r="2.6" fill="#a6a6a6" stroke="#111" stroke-width="1.15"/>
<circle cx="293.30" cy="344.60" r="2.6" fill="#a6a6a6" stroke="#111" stroke-width="1.15"/>
<circle cx="285.30" cy="347.30" r="2.6" fill="#a6a6a6" stroke="#111" stroke-width="1.15"/>
<path d="M310.00 261.90L312.80 264.70L310.00 267.50L307.20 264.70Z" fill="#0a0a0a"/>
<path d="M310.00 289.60L312.80 292.40L310.00 295.20L307.20 292.40Z" fill="#0a0a0a"/>
<path d="M306.10 293.60L308.90 296.40L306.10 299.20L303.30 296.40Z" fill="#0a0a0a"/>
<path d="M310.90 298.20L313.70 301.00L310.90 303.80L308.10 301.00Z" fill="#0a0a0a"/>
<path d="M314.00 297.30L316.80 300.10L314.00 302.90L311.20 300.10Z" fill="#0a0a0a"/>
<path d="M306.00 304.90L308.80 307.70L306.00 310.50L303.20 307.70Z" fill="#0a0a0a"/>
<path d="M314.00 303.50L316.80 306.30L314.00 309.10L311.20 306.30Z" fill="#0a0a0a"/>
<path d="M310.00 307.90L312.80 310.70L310.00 313.50L307.20 310.70Z" fill="#0a0a0a"/>
<path d="M311.30 310.90L314.10 313.70L311.30 316.50L308.50 313.70Z" fill="#0a0a0a"/>
<path d="M306.00 312.90L308.80 315.70L306.00 318.50L303.20 315.70Z" fill="#0a0a0a"/>
<path d="M309.30 314.20L312.10 317.00L309.30 319.80L306.50 317.00Z" fill="#0a0a0a"/>
<path d="M314.00 314.90L316.80 317.70L314.00 320.50L311.20 317.70Z" fill="#0a0a0a"/>
<path d="M326.60 272.22L329.05 274.60L326.60 276.98L324.15 274.60Z" fill="#a6a6a6" stroke="#111" stroke-width="1.1"/>
<path d="M334.20 272.22L336.65 274.60L334.20 276.98L331.75 274.60Z" fill="#a6a6a6" stroke="#111" stroke-width="1.1"/>
<path d="M326.40 294.42L328.85 296.80L326.40 299.18L323.95 296.80Z" fill="#a6a6a6" stroke="#111" stroke-width="1.1"/>
<path d="M334.10 293.42L336.55 295.80L334.10 298.18L331.65 295.80Z" fill="#a6a6a6" stroke="#111" stroke-width="1.1"/>
<path d="M326.40 301.12L328.85 303.50L326.40 305.88L323.95 303.50Z" fill="#a6a6a6" stroke="#111" stroke-width="1.1"/>
<path d="M334.10 301.62L336.55 304.00L334.10 306.38L331.65 304.00Z" fill="#a6a6a6" stroke="#111" stroke-width="1.1"/>
<path d="M326.40 308.12L328.85 310.50L326.40 312.88L323.95 310.50Z" fill="#a6a6a6" stroke="#111" stroke-width="1.1"/>
<path d="M330.30 307.52L332.75 309.90L330.30 312.28L327.85 309.90Z" fill="#a6a6a6" stroke="#111" stroke-width="1.1"/>
<path d="M334.10 309.22L336.55 311.60L334.10 313.98L331.65 311.60Z" fill="#a6a6a6" stroke="#111" stroke-width="1.1"/>
<path d="M327.90 311.62L330.35 314.00L327.90 316.38L325.45 314.00Z" fill="#a6a6a6" stroke="#111" stroke-width="1.1"/>
<path d="M332.60 312.72L335.05 315.10L332.60 317.48L330.15 315.10Z" fill="#a6a6a6" stroke="#111" stroke-width="1.1"/>
<path d="M326.40 315.12L328.85 317.50L326.40 319.88L323.95 317.50Z" fill="#a6a6a6" stroke="#111" stroke-width="1.1"/>
<path d="M334.40 318.02L336.85 320.40L334.40 322.78L331.95 320.40Z" fill="#a6a6a6" stroke="#111" stroke-width="1.1"/>
<path d="M334.40 328.02L336.85 330.40L334.40 332.78L331.95 330.40Z" fill="#a6a6a6" stroke="#111" stroke-width="1.1"/>
<path d="M326.40 332.62L328.85 335.00L326.40 337.38L323.95 335.00Z" fill="#a6a6a6" stroke="#111" stroke-width="1.1"/>
<path d="M351.10 254.42L353.55 256.80L351.10 259.18L348.65 256.80Z" fill="#ffffff" stroke="#111" stroke-width="1.1"/>
<path d="M351.10 262.82L353.55 265.20L351.10 267.58L348.65 265.20Z" fill="#ffffff" stroke="#111" stroke-width="1.1"/>
<path d="M351.50 282.52L353.95 284.90L351.50 287.28L349.05 284.90Z" fill="#ffffff" stroke="#111" stroke-width="1.1"/>
<path d="M347.40 285.72L349.85 288.10L347.40 290.48L344.95 288.10Z" fill="#ffffff" stroke="#111" stroke-width="1.1"/>
<path d="M347.10 290.32L349.55 292.70L347.10 295.08L344.65 292.70Z" fill="#ffffff" stroke="#111" stroke-width="1.1"/>
<path d="M355.00 290.72L357.45 293.10L355.00 295.48L352.55 293.10Z" fill="#ffffff" stroke="#111" stroke-width="1.1"/>
<path d="M352.60 295.62L355.05 298.00L352.60 300.38L350.15 298.00Z" fill="#ffffff" stroke="#111" stroke-width="1.1"/>
<path d="M349.00 298.72L351.45 301.10L349.00 303.48L346.55 301.10Z" fill="#ffffff" stroke="#111" stroke-width="1.1"/>
<path d="M347.20 302.22L349.65 304.60L347.20 306.98L344.75 304.60Z" fill="#ffffff" stroke="#111" stroke-width="1.1"/>
<path d="M354.80 301.12L357.25 303.50L354.80 305.88L352.35 303.50Z" fill="#ffffff" stroke="#111" stroke-width="1.1"/>
<path d="M347.20 306.32L349.65 308.70L347.20 311.08L344.75 308.70Z" fill="#ffffff" stroke="#111" stroke-width="1.1"/>
<path d="M354.80 306.92L357.25 309.30L354.80 311.68L352.35 309.30Z" fill="#ffffff" stroke="#111" stroke-width="1.1"/>
<path d="M347.20 310.42L349.65 312.80L347.20 315.18L344.75 312.80Z" fill="#ffffff" stroke="#111" stroke-width="1.1"/>
<path d="M354.80 311.02L357.25 313.40L354.80 315.78L352.35 313.40Z" fill="#ffffff" stroke="#111" stroke-width="1.1"/>
<path d="M347.20 315.72L349.65 318.10L347.20 320.48L344.75 318.10Z" fill="#ffffff" stroke="#111" stroke-width="1.1"/>
<path d="M354.80 315.12L357.25 317.50L354.80 319.88L352.35 317.50Z" fill="#ffffff" stroke="#111" stroke-width="1.1"/>
<path d="M347.20 319.82L349.65 322.20L347.20 324.58L344.75 322.20Z" fill="#ffffff" stroke="#111" stroke-width="1.1"/>
<path d="M354.80 318.62L357.25 321.00L354.80 323.38L352.35 321.00Z" fill="#ffffff" stroke="#111" stroke-width="1.1"/>
<line x1="280.50" y1="319.00" x2="297.00" y2="319.00" stroke="#111" stroke-width="1.0" />
<line x1="303.30" y1="310.30" x2="316.70" y2="310.30" stroke="#111" stroke-width="1.0" />
<line x1="322.00" y1="310.00" x2="339.00" y2="310.00" stroke="#111" stroke-width="1.0" />
<line x1="342.00" y1="303.60" x2="359.00" y2="303.60" stroke="#111" stroke-width="1.0" />
<path d="M304.00 387.00L358.75 400.00L304.00 400.00Z" fill="#0a0a0a"/>
<text x="304.20" y="398.50" font-size="9.3" text-anchor="start" fill="#fff" stroke="#fff" class="w" >CD4</text>
<text x="278.45" y="413.80" font-size="10.0" text-anchor="start" fill="#111" stroke="#111" >HIV-</text>
<text x="315.95" y="413.80" font-size="10.0" text-anchor="start" fill="#111" stroke="#111" >HIV+</text>
<line x1="433.20" y1="245.25" x2="433.20" y2="369.70" stroke="#222" stroke-width="1.1" />
<line x1="432.70" y1="369.20" x2="515.80" y2="369.20" stroke="#222" stroke-width="1.1" />
<line x1="429.70" y1="245.75" x2="433.20" y2="245.75" stroke="#222" stroke-width="1.0" />
<text x="429.20" y="248.95" font-size="9.2" text-anchor="end" fill="#111" stroke="#111" >10000</text>
<line x1="429.70" y1="340.25" x2="433.20" y2="340.25" stroke="#222" stroke-width="1.0" />
<text x="429.20" y="343.45" font-size="9.2" text-anchor="end" fill="#111" stroke="#111" >1000</text>
<line x1="431.00" y1="311.80" x2="433.20" y2="311.80" stroke="#222" stroke-width="0.9" />
<line x1="431.00" y1="295.16" x2="433.20" y2="295.16" stroke="#222" stroke-width="0.9" />
<line x1="431.00" y1="283.36" x2="433.20" y2="283.36" stroke="#222" stroke-width="0.9" />
<line x1="431.00" y1="274.20" x2="433.20" y2="274.20" stroke="#222" stroke-width="0.9" />
<line x1="431.00" y1="266.71" x2="433.20" y2="266.71" stroke="#222" stroke-width="0.9" />
<line x1="431.00" y1="260.39" x2="433.20" y2="260.39" stroke="#222" stroke-width="0.9" />
<line x1="431.00" y1="254.91" x2="433.20" y2="254.91" stroke="#222" stroke-width="0.9" />
<line x1="431.00" y1="250.07" x2="433.20" y2="250.07" stroke="#222" stroke-width="0.9" />
<line x1="442.80" y1="369.20" x2="442.80" y2="372.60" stroke="#222" stroke-width="1.0" />
<text x="442.80" y="384.20" font-size="9.3" text-anchor="middle" fill="#111" stroke="#111" >M</text>
<line x1="463.30" y1="369.20" x2="463.30" y2="372.60" stroke="#222" stroke-width="1.0" />
<text x="463.30" y="384.20" font-size="9.3" text-anchor="middle" fill="#111" stroke="#111" >H</text>
<line x1="483.60" y1="369.20" x2="483.60" y2="372.60" stroke="#222" stroke-width="1.0" />
<text x="483.60" y="384.20" font-size="9.3" text-anchor="middle" fill="#111" stroke="#111" >I</text>
<line x1="504.60" y1="369.20" x2="504.60" y2="372.60" stroke="#222" stroke-width="1.0" />
<text x="504.60" y="384.20" font-size="9.3" text-anchor="middle" fill="#111" stroke="#111" >L</text>
<line x1="454.00" y1="240.50" x2="454.00" y2="423.50" stroke="#444" stroke-width="1.1" stroke-dasharray="2.4,2.8"/>
<text x="470.50" y="224.20" font-size="9.0" text-anchor="middle" fill="#111" stroke="#111" >sCD14</text>
<text x="472.50" y="236.30" font-size="9.0" text-anchor="middle" fill="#111" stroke="#111" >***</text>
<path d="M437.80 241.00 Q437.80 238.40 440.80 238.40 L468.50 238.40 Q471.50 238.40 471.50 235.80 Q471.50 238.40 474.50 238.40 L503.10 238.40 Q506.10 238.40 506.10 241.00" fill="none" stroke="#8a8a8a" stroke-width="0.85"/>
<circle cx="443.00" cy="308.00" r="2.6" fill="#a6a6a6" stroke="#111" stroke-width="1.15"/>
<circle cx="441.40" cy="329.80" r="2.6" fill="#a6a6a6" stroke="#111" stroke-width="1.15"/>
<circle cx="445.10" cy="328.90" r="2.6" fill="#a6a6a6" stroke="#111" stroke-width="1.15"/>
<circle cx="447.00" cy="332.20" r="2.6" fill="#a6a6a6" stroke="#111" stroke-width="1.15"/>
<circle cx="439.50" cy="334.50" r="2.6" fill="#a6a6a6" stroke="#111" stroke-width="1.15"/>
<circle cx="443.20" cy="336.40" r="2.6" fill="#a6a6a6" stroke="#111" stroke-width="1.15"/>
<circle cx="447.00" cy="335.50" r="2.6" fill="#a6a6a6" stroke="#111" stroke-width="1.15"/>
<circle cx="442.30" cy="341.10" r="2.6" fill="#a6a6a6" stroke="#111" stroke-width="1.15"/>
<circle cx="447.00" cy="342.50" r="2.6" fill="#a6a6a6" stroke="#111" stroke-width="1.15"/>
<circle cx="439.00" cy="343.40" r="2.6" fill="#a6a6a6" stroke="#111" stroke-width="1.15"/>
<circle cx="445.10" cy="346.20" r="2.6" fill="#a6a6a6" stroke="#111" stroke-width="1.15"/>
<circle cx="439.50" cy="348.10" r="2.6" fill="#a6a6a6" stroke="#111" stroke-width="1.15"/>
<circle cx="443.20" cy="353.30" r="2.6" fill="#a6a6a6" stroke="#111" stroke-width="1.15"/>
<circle cx="447.00" cy="352.80" r="2.6" fill="#a6a6a6" stroke="#111" stroke-width="1.15"/>
<circle cx="439.50" cy="338.50" r="2.6" fill="#a6a6a6" stroke="#111" stroke-width="1.15"/>
<path d="M460.30 307.00L463.10 309.80L460.30 312.60L457.50 309.80Z" fill="#0a0a0a"/>
<path d="M460.30 310.00L463.10 312.80L460.30 315.60L457.50 312.80Z" fill="#0a0a0a"/>
<path d="M467.90 310.00L470.70 312.80L467.90 315.60L465.10 312.80Z" fill="#0a0a0a"/>
<path d="M459.60 318.40L462.40 321.20L459.60 324.00L456.80 321.20Z" fill="#0a0a0a"/>
<path d="M467.90 318.40L470.70 321.20L467.90 324.00L465.10 321.20Z" fill="#0a0a0a"/>
<path d="M460.30 323.00L463.10 325.80L460.30 328.60L457.50 325.80Z" fill="#0a0a0a"/>
<path d="M467.90 323.00L470.70 325.80L467.90 328.60L465.10 325.80Z" fill="#0a0a0a"/>
<path d="M467.90 326.50L470.70 329.30L467.90 332.10L465.10 329.30Z" fill="#0a0a0a"/>
<path d="M463.80 348.80L466.60 351.60L463.80 354.40L461.00 351.60Z" fill="#0a0a0a"/>
<path d="M480.60 294.42L483.05 296.80L480.60 299.18L478.15 296.80Z" fill="#a6a6a6" stroke="#111" stroke-width="1.1"/>
<path d="M480.60 298.62L483.05 301.00L480.60 303.38L478.15 301.00Z" fill="#a6a6a6" stroke="#111" stroke-width="1.1"/>
<path d="M488.20 297.52L490.65 299.90L488.20 302.28L485.75 299.90Z" fill="#a6a6a6" stroke="#111" stroke-width="1.1"/>
<path d="M488.20 301.02L490.65 303.40L488.20 305.78L485.75 303.40Z" fill="#a6a6a6" stroke="#111" stroke-width="1.1"/>
<path d="M488.20 304.62L490.65 307.00L488.20 309.38L485.75 307.00Z" fill="#a6a6a6" stroke="#111" stroke-width="1.1"/>
<path d="M480.60 308.12L483.05 310.50L480.60 312.88L478.15 310.50Z" fill="#a6a6a6" stroke="#111" stroke-width="1.1"/>
<path d="M480.60 315.02L483.05 317.40L480.60 319.78L478.15 317.40Z" fill="#a6a6a6" stroke="#111" stroke-width="1.1"/>
<path d="M484.70 315.82L487.15 318.20L484.70 320.58L482.25 318.20Z" fill="#a6a6a6" stroke="#111" stroke-width="1.1"/>
<path d="M488.20 315.82L490.65 318.20L488.20 320.58L485.75 318.20Z" fill="#a6a6a6" stroke="#111" stroke-width="1.1"/>
<path d="M480.60 318.82L483.05 321.20L480.60 323.58L478.15 321.20Z" fill="#a6a6a6" stroke="#111" stroke-width="1.1"/>
<path d="M488.20 319.62L490.65 322.00L488.20 324.38L485.75 322.00Z" fill="#a6a6a6" stroke="#111" stroke-width="1.1"/>
<path d="M480.60 325.62L483.05 328.00L480.60 330.38L478.15 328.00Z" fill="#a6a6a6" stroke="#111" stroke-width="1.1"/>
<path d="M484.70 330.22L487.15 332.60L484.70 334.98L482.25 332.60Z" fill="#a6a6a6" stroke="#111" stroke-width="1.1"/>
<path d="M488.20 328.42L490.65 330.80L488.20 333.18L485.75 330.80Z" fill="#a6a6a6" stroke="#111" stroke-width="1.1"/>
<path d="M488.20 322.82L490.65 325.20L488.20 327.58L485.75 325.20Z" fill="#a6a6a6" stroke="#111" stroke-width="1.1"/>
<path d="M504.90 266.32L507.35 268.70L504.90 271.08L502.45 268.70Z" fill="#ffffff" stroke="#111" stroke-width="1.1"/>
<path d="M504.90 274.62L507.35 277.00L504.90 279.38L502.45 277.00Z" fill="#ffffff" stroke="#111" stroke-width="1.1"/>
<path d="M501.10 285.62L503.55 288.00L501.10 290.38L498.65 288.00Z" fill="#ffffff" stroke="#111" stroke-width="1.1"/>
<path d="M508.90 285.62L511.35 288.00L508.90 290.38L506.45 288.00Z" fill="#ffffff" stroke="#111" stroke-width="1.1"/>
<path d="M501.40 291.42L503.85 293.80L501.40 296.18L498.95 293.80Z" fill="#ffffff" stroke="#111" stroke-width="1.1"/>
<path d="M505.20 297.52L507.65 299.90L505.20 302.28L502.75 299.90Z" fill="#ffffff" stroke="#111" stroke-width="1.1"/>
<path d="M509.00 295.22L511.45 297.60L509.00 299.98L506.55 297.60Z" fill="#ffffff" stroke="#111" stroke-width="1.1"/>
<path d="M501.40 306.62L503.85 309.00L501.40 311.38L498.95 309.00Z" fill="#ffffff" stroke="#111" stroke-width="1.1"/>
<path d="M505.20 305.12L507.65 307.50L505.20 309.88L502.75 307.50Z" fill="#ffffff" stroke="#111" stroke-width="1.1"/>
<path d="M508.00 304.32L510.45 306.70L508.00 309.08L505.55 306.70Z" fill="#ffffff" stroke="#111" stroke-width="1.1"/>
<path d="M509.80 306.62L512.25 309.00L509.80 311.38L507.35 309.00Z" fill="#ffffff" stroke="#111" stroke-width="1.1"/>
<path d="M500.70 311.22L503.15 313.60L500.70 315.98L498.25 313.60Z" fill="#ffffff" stroke="#111" stroke-width="1.1"/>
<path d="M508.30 312.02L510.75 314.40L508.30 316.78L505.85 314.40Z" fill="#ffffff" stroke="#111" stroke-width="1.1"/>
<path d="M505.20 315.82L507.65 318.20L505.20 320.58L502.75 318.20Z" fill="#ffffff" stroke="#111" stroke-width="1.1"/>
<path d="M508.30 318.02L510.75 320.40L508.30 322.78L505.85 320.40Z" fill="#ffffff" stroke="#111" stroke-width="1.1"/>
<path d="M501.40 321.82L503.85 324.20L501.40 326.58L498.95 324.20Z" fill="#ffffff" stroke="#111" stroke-width="1.1"/>
<path d="M505.20 324.12L507.65 326.50L505.20 328.88L502.75 326.50Z" fill="#ffffff" stroke="#111" stroke-width="1.1"/>
<path d="M501.40 327.52L503.85 329.90L501.40 332.28L498.95 329.90Z" fill="#ffffff" stroke="#111" stroke-width="1.1"/>
<path d="M508.30 328.72L510.75 331.10L508.30 333.48L505.85 331.10Z" fill="#ffffff" stroke="#111" stroke-width="1.1"/>
<path d="M505.20 332.52L507.65 334.90L505.20 337.28L502.75 334.90Z" fill="#ffffff" stroke="#111" stroke-width="1.1"/>
<line x1="437.00" y1="339.50" x2="450.00" y2="339.50" stroke="#111" stroke-width="1.0" />
<line x1="458.00" y1="320.40" x2="471.00" y2="320.40" stroke="#111" stroke-width="1.0" />
<line x1="477.80" y1="316.60" x2="491.50" y2="316.60" stroke="#111" stroke-width="1.0" />
<line x1="499.00" y1="309.00" x2="512.00" y2="309.00" stroke="#111" stroke-width="1.0" />
<path d="M457.00 388.00L511.50 401.25L457.00 401.25Z" fill="#0a0a0a"/>
<text x="457.20" y="399.75" font-size="9.3" text-anchor="start" fill="#fff" stroke="#fff" class="w" >CD4</text>
<text x="431.50" y="413.80" font-size="10.0" text-anchor="start" fill="#111" stroke="#111" >HIV-</text>
<text x="468.90" y="413.80" font-size="10.0" text-anchor="start" fill="#111" stroke="#111" >HIV+</text>
<text transform="translate(389.7,308.5) rotate(-90)" x="0" y="0" font-size="9.7" text-anchor="middle" fill="#111">Plasma concentration</text>
<text transform="translate(400.6,308.9) rotate(-90)" x="0" y="0" font-size="9.7" text-anchor="middle" fill="#111">(pg/ml)</text>
<text x="378.40" y="228.80" font-size="17" text-anchor="start" fill="#111" stroke="#111" >D</text>
</svg>
</body></html>
